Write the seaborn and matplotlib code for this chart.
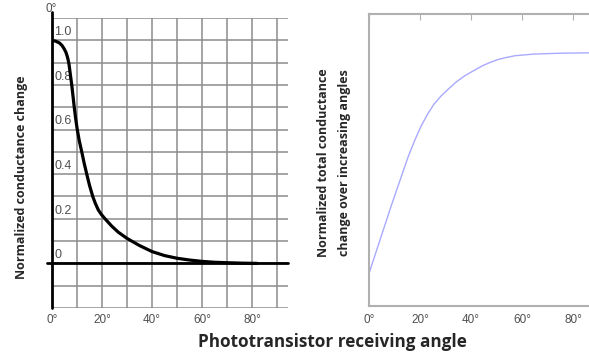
import numpy as np
import pandas as pd
import matplotlib
matplotlib.use("Agg")
import matplotlib.pyplot as plt
import seaborn as sns

sns.set_style("white")
plt.rcParams['font.family'] = ['Liberation Sans', 'DejaVu Sans']

# left panel: normalized conductance change vs angle
angle_left = [0, 1.5, 3, 4, 4.8, 5.5, 6.0, 6.4, 6.8, 7.3, 7.9, 8.4, 8.9, 9.45, 10.1, 10.9, 11.9,
              12.85, 13.9, 15.0, 16.3, 17.3, 18.5, 19.7, 21.2, 23.9, 26.5, 30, 35, 40, 45, 50,
              55, 60, 65, 70, 76, 82]
cond_change = [1.0, 0.996, 0.988, 0.977, 0.963, 0.948, 0.932, 0.915, 0.893, 0.85, 0.8, 0.75, 0.7,
               0.65, 0.6, 0.55, 0.5, 0.45, 0.4, 0.35, 0.3, 0.27, 0.24, 0.22, 0.2, 0.167, 0.14,
               0.112, 0.08, 0.053, 0.035, 0.023, 0.015, 0.009, 0.005, 0.003, 0.001, 0.0]

# right panel: normalized total conductance over increasing angles
angle_right = [0, 4.3, 8.6, 13.1, 15.5, 18, 20.5, 23, 25.5, 28.2, 31.1, 34.2, 37.6, 41, 44.2,
               47.5, 50.7, 54, 57.3, 61, 65, 75, 87]
cond_total = [0.78, 1.58, 2.38, 3.18, 3.6, 3.98, 4.32, 4.6, 4.84, 5.03, 5.2, 5.37, 5.52, 5.64,
              5.75, 5.84, 5.91, 5.96, 6.0, 6.02, 6.04, 6.06, 6.07]

x_tick_vals = [0, 10, 20, 30, 40, 50, 60, 70, 80, 90]
x_tick_text = ['0°', '', '20°', '', '40°', '', '60°', '', '80°', '']
y_label_vals = [0, 0.2, 0.4, 0.6, 0.8, 1.0]
y_label_text = ['0', '0.2', '0.4', '0.6', '0.8', '1.0']

df_left = pd.DataFrame({'angle': angle_left, 'change': cond_change})
df_right = pd.DataFrame({'angle': angle_right, 'total': cond_total})

fig = plt.figure(figsize=(5.89, 3.55), dpi=100)
ax1 = fig.add_axes([52/589, 47/355, 236/589, 290/355])
ax2 = fig.add_axes([369/589, 49/355, 220/589, 292/355])

# ---- left
ax1.set_xlim(0, 94.4)
ax1.set_ylim(-0.2, 1.1)
ax1.set_xticks(x_tick_vals)
ax1.set_xticklabels(x_tick_text)
ax1.set_yticks(np.round(np.arange(-0.2, 1.11, 0.1), 1))
ax1.set_yticklabels([])
ax1.grid(True, color='#8c8c8c', lw=1.1)
ax1.tick_params(length=0, labelsize=8.5, labelcolor='#505050', pad=4)
for s in ax1.spines.values():
    s.set_visible(False)
ax1.plot([0, 0], [-0.2, 1.125], color='black', lw=2, clip_on=False, zorder=3)
ax1.plot([-2, 94.4], [0, 0], color='black', lw=2, clip_on=False, zorder=3)
sns.lineplot(data=df_left, x='angle', y='change', ax=ax1, color='black', lw=2.3, zorder=4)
ax1.set_xlabel('')
ax1.set_ylabel('')
for v, t in zip(y_label_vals, y_label_text):
    ax1.text(1.0, v + 0.01, t, fontsize=9, color='#505050', va='bottom', ha='left')
ax1.text(-0.5, 1.14, '0°', fontsize=8.5, color='#505050', va='center', ha='center')

# ---- right
sns.lineplot(data=df_right, x='angle', y='total', ax=ax2, color='#a9a9ff', lw=1)
ax2.set_xlim(0, 86.3)
ax2.set_ylim(0, 7)
ax2.set_xticks([0, 20, 40, 60, 80])
ax2.set_xticklabels(['0°', '20°', '40°', '60°', '80°'])
ax2.set_yticks([1, 2, 3, 4, 5, 6])
ax2.set_yticklabels([])
ax2.tick_params(direction='in', length=4, color='#b0b0b0', top=True, labelsize=8.5,
                labelcolor='#505050', pad=6)
ax2.spines['right'].set_visible(False)
for k in ['left', 'top', 'bottom']:
    ax2.spines[k].set_color('#b0b0b0')
    ax2.spines[k].set_linewidth(1.5)
ax2.set_xlabel('')
ax2.set_ylabel('')

# ---- labels
lab_font = ['Open Sans', 'DejaVu Sans']
fig.text(332/589, 1 - 342/355, 'Phototransistor receiving angle', family=lab_font,
         fontweight='bold', fontsize=12.3, ha='center', va='center')
fig.text(22/589, 1 - 177/355, 'Normalized conductance change', family=lab_font,
         fontweight='bold', fontsize=9, rotation=90, ha='center', va='center')
fig.text(334/589, 1 - 163/355, 'Normalized total conductance\nchange over increasing angles',
         family=lab_font, fontweight='bold', fontsize=9, rotation=90,
         ha='center', va='center', multialignment='center', linespacing=1.85)

fig.savefig('out.png', dpi=100)
